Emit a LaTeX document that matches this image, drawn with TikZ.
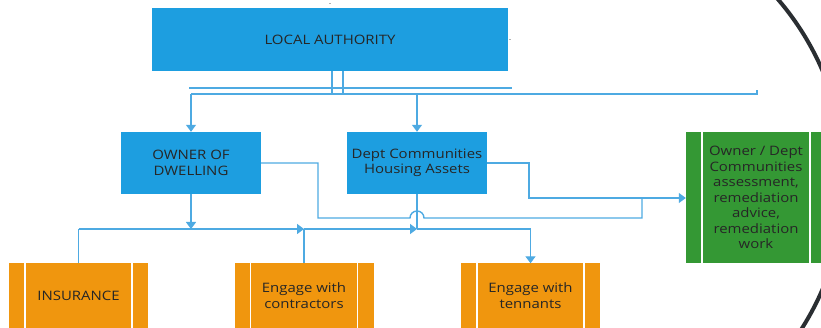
\documentclass[tikz,border=0pt]{standalone}
\usepackage{fontspec}
\setmainfont{Open Sans}[FakeStretch=1.15]
\usepackage{tikz}
\usetikzlibrary{calc}
\usetikzlibrary{arrows.meta}
\definecolor{boxblue}{RGB}{29,158,224}
\definecolor{linkblue}{RGB}{78,170,226}
\definecolor{boxorange}{RGB}{240,150,14}
\definecolor{boxgreen}{RGB}{52,152,52}
\definecolor{ringgrey}{RGB}{42,46,50}

\begin{document}
\begin{tikzpicture}[x=1pt,y=-1pt]
\tikzstyle{box}=[rectangle,align=center,inner sep=0pt,text=black!85,font=\fontsize{13}{15.5}\selectfont]
\tikzstyle{bluebox}=[box,fill=boxblue,minimum width=140pt,minimum height=62pt]
\tikzstyle{procbox}=[box,minimum width=139pt,minimum height=64pt,
  path picture={\draw[white,line width=1.2pt]
    ([xshift=16pt]path picture bounding box.north west) -- ([xshift=16pt]path picture bounding box.south west)
    ([xshift=-16pt]path picture bounding box.north east) -- ([xshift=-16pt]path picture bounding box.south east);}]
\tikzstyle{link}=[draw=linkblue,line width=1.4pt]
\tikzstyle{arr}=[link,-{Triangle[length=7pt,width=10pt]}]
\useasboundingbox (0,0) rectangle (821,328);
\clip (0,0) rectangle (821,328);

\node[bluebox,minimum width=356pt,minimum height=63pt] at(330,39.5) (la) {LOCAL AUTHORITY};
\node[bluebox] at(191,163) (owner) {OWNER OF\\DWELLING};
\node[bluebox] at(417,163) (dept) {Dept Communities\\Housing Assets};
\node[procbox,fill=boxgreen,minimum width=140pt,minimum height=131pt] at(756,197.5) (assess) {Owner / Dept\\
                         Communities\\
                         assessment,\\
                         remediation\\
                         advice,\\
                         remediation\\
                         work};
\node[procbox,fill=boxorange] at(78.5,295.5) (ins) {INSURANCE};
\node[procbox,fill=boxorange] at(304,295.5) (contr) {Engage with\\contractors};
\node[procbox,fill=boxorange] at(530.5,295.5) (tenn) {Engage with\\tennants};

% from the authority
\coordinate (tapL) at (332,94);
\coordinate (tapR) at (343,94);
\coordinate (railA) at (189,88);
\coordinate (railB) at (512,88);
\coordinate (railEnd) at (757,94);
\draw[link] (la.south -| tapL) -- (tapL);
\draw[link] (la.south -| tapR) -- (tapR);
\draw[link] (railA) -- (railB);
\draw[link] (owner.north |- tapL) -- (railEnd) -- ++(0,-4);
\draw[arr] (owner.north |- tapL) -- (owner.north);
\draw[arr] (dept.north |- tapL) -- (dept.north);
\draw[link,line width=1pt,draw=gray!60] ($(la.north)+(-1,-4)$) -- ++(2,0);
\draw[link,line width=1pt,draw=gray!60] ($(la.east)+(1,0)$) -- ++(2,0);

% lower rail
\coordinate (busB) at (78,229);
\draw[arr] (owner.south) -- (owner.south |- busB);
\draw[link] (ins.north) -- (ins.north |- busB);
\draw[arr] (ins.north |- busB) -- (contr.north |- busB);
\draw[link] (contr.north) -- (contr.north |- busB);
\draw[arr] (contr.north |- busB) -- (dept.south |- busB);
\draw[link] (dept.south) -- (dept.south |- busB);
\draw[arr] (dept.south |- busB) -| (tenn.north);

% to the assessment box
\coordinate (ownBend) at (318,218);
\coordinate (feed) at (529,198);
\coordinate (merge) at (642,198);
\draw[link] (owner.east) -| (ownBend) -- ($(dept.south |- ownBend)+(-7,0)$)
  arc[start angle=180,end angle=0,radius=7pt] -- (merge |- ownBend) -- (merge);
\draw[arr] (dept.east) -| (feed) -- (feed -| assess.west);

% ring at the right edge
\coordinate (ringC) at (568,180);
\draw[ringgrey,line width=4pt] ($(ringC)+(50:277pt)$) arc[start angle=50,end angle=-45,radius=277pt];
\end{tikzpicture}
\end{document}
